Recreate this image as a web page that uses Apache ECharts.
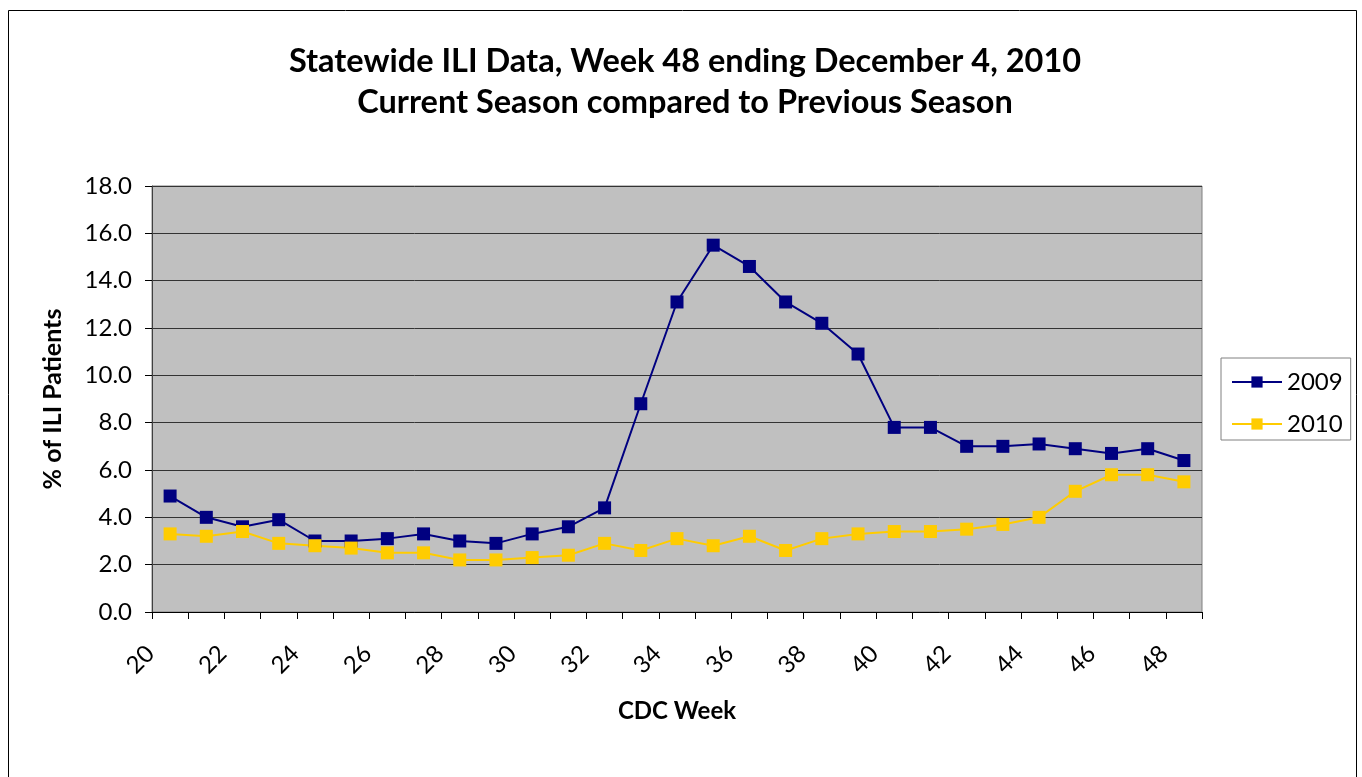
<!DOCTYPE html>
<html>
<head>
<meta charset="utf-8">
<script src="https://cdn.jsdelivr.net/npm/echarts@6/dist/echarts.min.js"></script>
<style>
  html, body { margin: 0; padding: 0; background: #fff; }
  #chart { width: 1362px; height: 777px; }
</style>
</head>
<body>
<div id="chart"></div>
<script>
// CDC weeks 20..48
const weeks = [];
for (let w = 20; w <= 48; w++) weeks.push(String(w));

const season2009 = [4.9, 4.0, 3.6, 3.9, 3.0, 3.0, 3.1, 3.3, 3.0, 2.9, 3.3,
  3.6, 4.4, 8.8, 13.1, 15.5, 14.6, 13.1, 12.2, 10.9, 7.8,
  7.8, 7.0, 7.0, 7.1, 6.9, 6.7, 6.9, 6.4];
const season2010 = [3.3, 3.2, 3.4, 2.9, 2.8, 2.7, 2.5, 2.5, 2.2, 2.2, 2.3,
  2.4, 2.9, 2.6, 3.1, 2.8, 3.2, 2.6, 3.1, 3.3, 3.4,
  3.4, 3.5, 3.7, 4.0, 5.1, 5.8, 5.8, 5.5];

const font = "Lato, 'Open Sans', sans-serif";

const myChart = echarts.init(document.getElementById("chart"), null, { renderer: "canvas" });

const option = {
  animation: false,
  textStyle: { fontFamily: font, color: "#000" },
  title: {
    text: "Statewide ILI Data, Week 48 ending December 4, 2010\nCurrent Season compared to Previous Season",
    left: 680,
    textAlign: "center",
    top: 36,
    textStyle: {
      fontFamily: font,
      fontSize: 32.5,
      fontWeight: "bold",
      lineHeight: 41,
      color: "#000",
    },
  },
  // outer chart border
  graphic: [
    {
      type: "rect",
      shape: { x: 8.5, y: 10.5, width: 1348, height: 790 },
      style: { fill: "none", stroke: "#000", lineWidth: 1 },
      silent: true,
    },
  ],
  legend: {
    orient: "vertical",
    left: 1221,
    top: 358,
    padding: [12, 8, 4, 10],
    itemGap: 18,
    itemWidth: 50,
    itemHeight: 14,
    borderColor: "#808080",
    borderWidth: 1,
    textStyle: { fontFamily: font, fontSize: 24, color: "#000" },
    data: ["2009", "2010"],
  },
  grid: {
    left: 152,
    right: 160,
    top: 186,
    bottom: 165,
    show: true,
    backgroundColor: "#C0C0C0",
    borderColor: "#808080",
    borderWidth: 1,
  },
  xAxis: {
    type: "category",
    data: weeks,
    boundaryGap: true,
    name: "CDC Week",
    nameLocation: "middle",
    nameGap: 87,
    nameTextStyle: { fontFamily: font, fontSize: 24, fontWeight: "bold", color: "#000" },
    axisLine: { show: true, lineStyle: { color: "#000", width: 1 } },
    axisTick: { show: true, interval: 0, length: 7, lineStyle: { color: "#000" } },
    axisLabel: {
      interval: 1,
      rotate: 45,
      fontFamily: font,
      fontSize: 24,
      color: "#000",
      margin: 18,
      padding: [0, 28, 0, 0],
    },
    splitLine: { show: false },
  },
  yAxis: {
    type: "value",
    min: 0,
    max: 18,
    interval: 2,
    name: "% of ILI Patients",
    nameLocation: "middle",
    nameGap: 87,
    nameTextStyle: { fontFamily: font, fontSize: 25, fontWeight: "bold", color: "#000" },
    axisLine: { show: true, lineStyle: { color: "#404040", width: 1 } },
    axisTick: { show: true, length: 7, lineStyle: { color: "#000" } },
    axisLabel: {
      formatter: (v) => v.toFixed(1),
      fontFamily: font,
      fontSize: 24,
      color: "#000",
      margin: 20,
    },
    splitLine: { show: true, lineStyle: { color: "#333", width: 1 } },
  },
  series: [
    {
      name: "2009",
      type: "line",
      data: season2009,
      symbol: "rect",
      symbolSize: 13,
      color: "#000080",
      lineStyle: { color: "#000080", width: 2 },
      itemStyle: { color: "#000080" },
    },
    {
      name: "2010",
      type: "line",
      data: season2010,
      symbol: "rect",
      symbolSize: 13,
      color: "#FFCC00",
      lineStyle: { color: "#FFCC00", width: 2 },
      itemStyle: { color: "#FFCC00" },
    },
  ],
};

myChart.setOption(option);
</script>
</body>
</html>
